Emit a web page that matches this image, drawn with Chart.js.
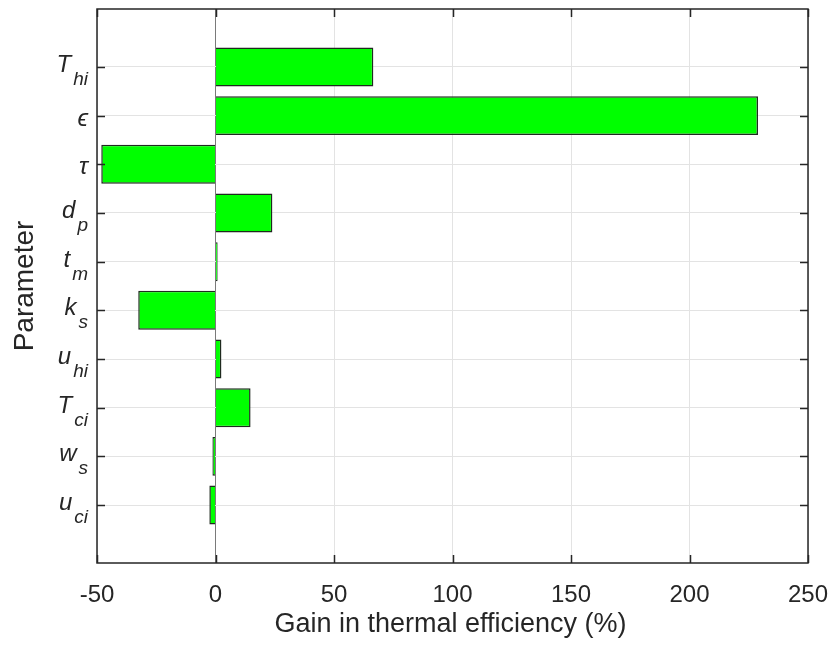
<!DOCTYPE html>
<html lang="en">

<head>
  <meta charset="UTF-8">
  <title>Gain in thermal efficiency</title>
  <script src="https://cdn.jsdelivr.net/npm/chart.js"></script>
  <style>
    html, body { margin: 0; padding: 0; background: #fff; }
    #wrap { width: 833px; height: 650px; }
  </style>
</head>

<body>
  <div id="wrap"><canvas id="gainChart" width="833" height="650"></canvas></div>
  <script>
    // parameters, top to bottom (symbol + subscript)
    const paramSymbols = ['T', '\u03F5', '\u03C4', 'd', 't', 'k', 'u', 'T', 'w', 'u'];
    const paramSubs = ['hi', '', '', 'p', 'm', 's', 'hi', 'ci', 's', 'ci'];
    // gain in thermal efficiency (%)
    const gains = [66.6, 228.9, -48.2, 24.0, 0.9, -32.6, 2.5, 14.8, -1.3, -2.6];
    const xTicks = [-50, 0, 50, 100, 150, 200, 250];

    const FONT = '"Liberation Sans", Arial, Helvetica, sans-serif';
    const INK = '#262626';

    // y position of each parameter (top one is highest)
    const positions = paramSymbols.map((_, i) => paramSymbols.length - i);

    const axesPlugin = {
      id: 'matlabAxes',
      afterDraw(chart) {
        const { ctx, chartArea: a, scales } = chart;
        const x = scales.x, y = scales.y;
        ctx.save();

        // box
        ctx.strokeStyle = INK;
        ctx.lineWidth = 1.5;
        ctx.strokeRect(a.left, a.top, a.right - a.left, a.bottom - a.top);

        // inward ticks on all four sides
        ctx.beginPath();
        xTicks.forEach(v => {
          const px = Math.round(x.getPixelForValue(v)) + 0.5;
          ctx.moveTo(px, a.bottom); ctx.lineTo(px, a.bottom - 8);
          ctx.moveTo(px, a.top); ctx.lineTo(px, a.top + 8);
        });
        positions.forEach(p => {
          const py = Math.round(y.getPixelForValue(p)) + 0.5;
          ctx.moveTo(a.left, py); ctx.lineTo(a.left + 8, py);
          ctx.moveTo(a.right, py); ctx.lineTo(a.right - 8, py);
        });
        ctx.stroke();

        // parameter labels with subscripts
        ctx.fillStyle = INK;
        ctx.textBaseline = 'alphabetic';
        ctx.textAlign = 'left';
        const mainFont = 'italic 24px ' + FONT;
        const subFont = 'italic 19px ' + FONT;
        positions.forEach((p, i) => {
          const py = y.getPixelForValue(p);
          ctx.font = mainFont;
          const wMain = ctx.measureText(paramSymbols[i]).width;
          ctx.font = subFont;
          const wSub = paramSubs[i] ? ctx.measureText(paramSubs[i]).width + 2 : 0;
          const x0 = a.left - 9 - wMain - wSub;
          ctx.font = mainFont;
          ctx.fillText(paramSymbols[i], x0, py + (paramSubs[i] ? 5 : 10));
          if (paramSubs[i]) {
            ctx.font = subFont;
            ctx.fillText(paramSubs[i], x0 + wMain + 2, py + 18);
          }
        });

        // axis titles
        ctx.textAlign = 'center';
        ctx.font = '27px ' + FONT;
        ctx.fillText('Gain in thermal efficiency (%)', (a.left + a.right) / 2 - 2, 632);
        ctx.translate(33, (a.top + a.bottom) / 2);
        ctx.rotate(-Math.PI / 2);
        ctx.font = '28px ' + FONT;
        ctx.fillText('Parameter', 0, 0);
        ctx.restore();
      }
    };

    new Chart(document.getElementById('gainChart'), {
      type: 'bar',
      data: {
        datasets: [{
          data: gains.map((g, i) => ({ x: g, y: positions[i] })),
          backgroundColor: '#00ff00',
          borderColor: '#1f2a1f',
          borderWidth: 1.5,
          barPercentage: 0.8,
          categoryPercentage: 1.0
        }]
      },
      options: {
        indexAxis: 'y',
        responsive: false,
        animation: false,
        layout: { padding: { left: 0, right: 25, top: 9, bottom: 0 } },
        plugins: { legend: { display: false }, tooltip: { enabled: false } },
        scales: {
          x: {
            type: 'linear',
            min: -50,
            max: 250,
            afterBuildTicks: s => { s.ticks = xTicks.map(v => ({ value: v })); },
            afterFit: s => { s.height = 87; s.paddingLeft = 0; s.paddingRight = 0; },
            grid: {
              drawTicks: false,
              color: c => c.tick && c.tick.value === 0 ? '#7a7a7a' : '#e3e3e3',
              lineWidth: 1
            },
            border: { display: false },
            ticks: {
              padding: 18,
              color: INK,
              font: { family: FONT, size: 24 }
            }
          },
          y: {
            type: 'linear',
            min: -0.19,
            max: 11.19,
            offset: false,
            afterBuildTicks: s => { s.ticks = positions.map(v => ({ value: v })); },
            afterFit: s => { s.width = 97; },
            grid: { offset: false, drawTicks: false, color: '#e3e3e3', lineWidth: 1 },
            border: { display: false },
            ticks: { display: false }
          }
        }
      },
      plugins: [axesPlugin]
    });
  </script>
</body>

</html>
